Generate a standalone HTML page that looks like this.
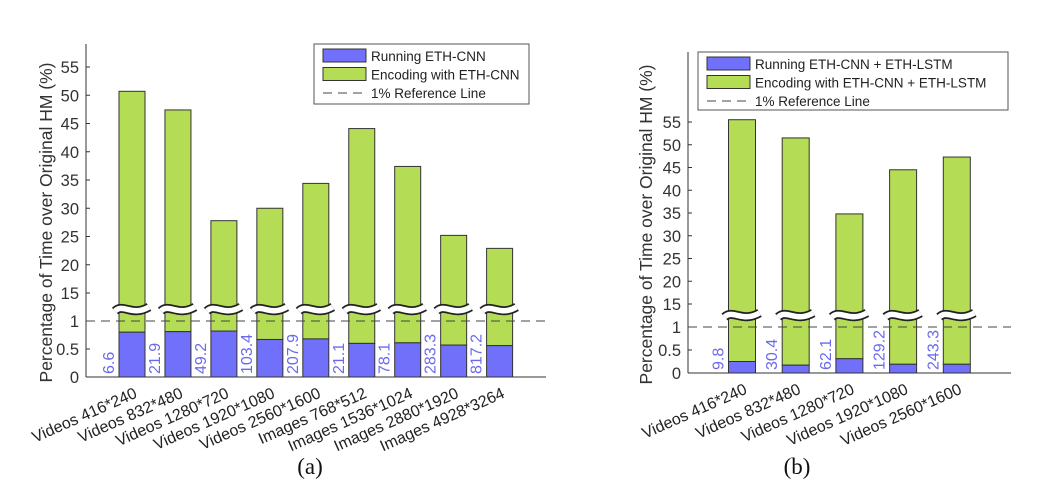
<!DOCTYPE html>
<html><head><meta charset="utf-8"><style>
body{margin:0;background:#fff;}
svg{display:block;font-family:"Liberation Sans",Arial,sans-serif;}
</style></head><body>
<svg id="svg" width="1037" height="494" viewBox="0 0 1037 494" xmlns="http://www.w3.org/2000/svg"></svg>
<script>
const catsA = ["Videos 416*240","Videos 832*480","Videos 1280*720","Videos 1920*1080","Videos 2560*1600","Images 768*512","Images 1536*1024","Images 2880*1920","Images 4928*3264"];
const totalA = [50.7,47.4,27.8,30.0,34.4,44.1,37.4,25.2,22.9];
const runA = [0.80,0.81,0.82,0.67,0.68,0.60,0.61,0.57,0.56];
const labA = ["6.6","21.9","49.2","103.4","207.9","21.1","78.1","283.3","817.2"];
const catsB = ["Videos 416*240","Videos 832*480","Videos 1280*720","Videos 1920*1080","Videos 2560*1600"];
const totalB = [55.5,51.5,34.8,44.5,47.3];
const runB = [0.25,0.17,0.31,0.19,0.19];
const labB = ["9.8","30.4","62.1","129.2","243.3"];
const ticks = ["0","0.5","1","15","20","25","30","35","40","45","50","55"];

const NS="http://www.w3.org/2000/svg";
const svg=document.getElementById('svg');
function mk(tag,attrs,parent,text){const e=document.createElementNS(NS,tag);for(const k in attrs)e.setAttribute(k,attrs[k]);if(text!==undefined)e.textContent=text;(parent||svg).appendChild(e);return e;}

function chart(cfg){
  const g=mk('g',{});
  
  
  const y=v=>{ if(v<=1) return cfg.y0-(cfg.y0-cfg.y1)*v;
    if(v<=15) return cfg.y1-(cfg.y1-cfg.y15)*(v-1)/14;
    return cfg.y15-(v-15)*cfg.k; };
  const x=i=>cfg.c0+i*cfg.step;
  const ax=mk('line',{x1:cfg.ax,y1:cfg.top,x2:cfg.ax,y2:cfg.y0,stroke:'#333','stroke-width':1},g);
  
  const bx=mk('line',{x1:cfg.ax,y1:cfg.y0,x2:cfg.right,y2:cfg.y0,stroke:'#333','stroke-width':1},g);
  
  ticks.forEach(t=>{const v=parseFloat(t);const yy=y(v);
    mk('line',{x1:cfg.ax,y1:yy,x2:cfg.ax+4,y2:yy,stroke:'#333'},g);
    const tl=mk('text',{x:cfg.ax-7,y:yy+6,'text-anchor':'end','font-size':16.5,fill:'#333'},g,t);
    });
  const yl=mk('text',{x:0,y:0,transform:`translate(${cfg.ylx},${(cfg.top+cfg.y0)/2+12}) rotate(-90)`,'text-anchor':'middle','font-size':17.5,fill:'#333'},g,'Percentage of Time over Original HM (%)');
  
  const hw=cfg.bw/2;
  cfg.cats.forEach((c,i)=>{
    const cx=x(i);
    mk('line',{x1:cx,y1:cfg.y0,x2:cx,y2:cfg.y0-4,stroke:'#333'},g);
    const enc=mk('rect',{x:cx-hw,y:y(cfg.total[i]),width:cfg.bw,height:y(cfg.run[i])-y(cfg.total[i]),fill:'#b5dc55',stroke:'#333','stroke-width':1},g);
    
    const run=mk('rect',{x:cx-hw,y:y(cfg.run[i]),width:cfg.bw,height:cfg.y0-y(cfg.run[i]),fill:'#7070fa',stroke:'#333','stroke-width':1},g);
    
    const by=cfg.brk, x1=cx-hw-4, x2=cx+hw+4, w=x2-x1;
    const d=`M${x1},${by+2} C${x1+w*0.25},${by-6} ${x1+w*0.5},${by+8} ${x2},${by-2}`;
    mk('path',{d,fill:'none',stroke:'#222','stroke-width':9},g);
    mk('path',{d,fill:'none',stroke:'#fff','stroke-width':5.5},g);
    const lb=mk('text',{x:0,y:0,transform:`translate(${cx-hw-5},${cfg.y0-3}) rotate(-90)`,'font-size':16,fill:'#6a6aee'},g,cfg.lab[i]);
    
    const xl=mk('text',{x:0,y:0,transform:`translate(${cx+6},${cfg.y0+20}) rotate(-24)`,'text-anchor':'end','font-size':16,fill:'#222'},g,c);
    
  });
  const rl=mk('line',{x1:cfg.ax,y1:y(1),x2:cfg.right,y2:y(1),stroke:'#444','stroke-dasharray':'9,6','stroke-width':1},g);
  
  const L=cfg.leg;
  const lg=mk('g',{},g);
  mk('rect',{x:L.x,y:L.y,width:L.w,height:L.h,fill:'#fff',stroke:'#555'},lg);
  const rows=[[cfg.l1,'#7070fa'],[cfg.l2,'#b5dc55'],['1% Reference Line',null]];
  rows.forEach((r,j)=>{const ry=L.y+5+j*18.5;
    if(r[1]){mk('rect',{x:L.x+9,y:ry,width:43,height:13,fill:r[1],stroke:'#333'},lg);}
    else mk('line',{x1:L.x+9,y1:ry+7,x2:L.x+52,y2:ry+7,stroke:'#444','stroke-dasharray':'9,6'},lg);
    const t=mk('text',{x:L.x+57,y:ry+12,'font-size':13.5,fill:'#222'},lg,r[0]);
    });
}
chart({name:'chart-a',cats:catsA,total:totalA,run:runA,lab:labA,ax:86,top:44,right:546,y0:377,y1:321,y15:293,k:5.65,c0:132,step:45.95,bw:26,brk:309,ylx:52,
  leg:{x:314,y:44,w:215,h:60},l1:'Running ETH-CNN',l2:'Encoding with ETH-CNN'});
chart({name:'chart-b',cats:catsB,total:totalB,run:runB,lab:labB,ax:688,top:52,right:1011,y0:373,y1:327,y15:304,k:4.55,c0:742,step:53.7,bw:27,brk:315,ylx:652,
  leg:{x:698,y:52,w:310,h:58},l1:'Running ETH-CNN + ETH-LSTM',l2:'Encoding with ETH-CNN + ETH-LSTM'});
const ca=mk('text',{x:310,y:474,'text-anchor':'middle','font-size':23,'font-family':'Liberation Serif, serif',fill:'#111'},svg,'(a)');

const cb=mk('text',{x:797,y:474,'text-anchor':'middle','font-size':23,'font-family':'Liberation Serif, serif',fill:'#111'},svg,'(b)');

</script>
</body></html>
